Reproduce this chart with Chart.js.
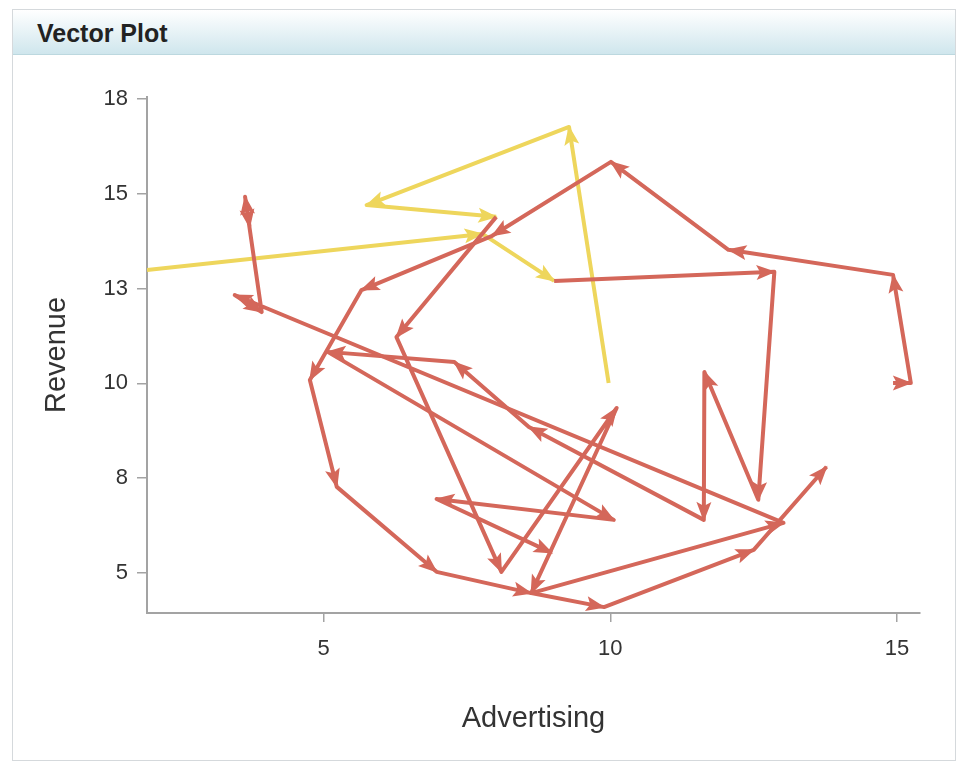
<!DOCTYPE html>
<html>
<head>
<meta charset="utf-8">
<script src="https://cdn.jsdelivr.net/npm/chart.js@4.4.1/dist/chart.umd.min.js"></script>
<style>
  html, body { margin: 0; padding: 0; background: #fff; }
  body { width: 958px; height: 762px; position: relative; overflow: hidden; font-family: 'Liberation Sans', Arial, sans-serif; }
  .panel { position: absolute; left: 12px; top: 9px; width: 944px; height: 752px; border: 1px solid #d5d9dc; box-sizing: border-box; }
  .header { position: absolute; left: 0; top: 0; right: 0; height: 44px; background: linear-gradient(#ffffff, #cfe6ed); border-bottom: 1px solid #bcd8df; }
  .header span { position: absolute; left: 24px; top: 9px; font: bold 25px 'Liberation Sans', Arial, sans-serif; color: #222; }
  #wrap { position: absolute; left: 0; top: 0; width: 958px; height: 762px; }
</style>
</head>
<body>
<div class="panel"><div class="header"><span>Vector Plot</span></div></div>
<div id="wrap"><canvas id="chart"></canvas></div>
<script>
// each path is a chain of vectors: one arrow from a point to the next one
const pathAX = [1.92, 7.77, 9.02];
const pathAY = [12.99, 13.94, 12.70];
const pathBX = [9.97, 9.28, 5.75, 8.01];
const pathBY = [10.01, 16.76, 14.70, 14.39];
const pathCX = [9.02, 12.86, 12.58, 11.64, 11.63, 8.58, 7.28, 5.07, 10.06, 6.97, 8.98];
const pathCY = [12.70, 12.94, 6.93, 10.30, 6.40, 8.85, 10.56, 10.83, 6.40, 6.95, 5.53];
const pathDX = [8.01, 6.27, 8.10, 10.11, 8.62, 13.02, 3.45, 3.92, 3.63, 3.71];
const pathDY = [14.39, 11.22, 5.03, 9.35, 4.47, 6.32, 12.33, 11.88, 14.92, 14.12];
const pathEX = [14.93, 15.24, 14.93, 12.06, 10.01, 7.94, 5.66, 4.76, 5.23, 6.97, 8.62, 9.89, 12.50, 13.77];
const pathEY = [10.01, 10.01, 12.86, 13.52, 15.84, 13.89, 12.46, 10.09, 7.27, 5.03, 4.47, 4.10, 5.61, 7.80];

const xTicks = [5, 10, 15];
const yTicks = [5, 7.5, 10, 12.5, 15, 17.5];
const yTickLabels = ['5', '8', '10', '13', '15', '18'];

const yellow = '#eed65c';
const red = '#d4675a';

function toPoints(xs, ys) {
  return xs.map((x, i) => ({ x: x, y: ys[i] }));
}

function pathDataset(xs, ys, color) {
  return {
    data: toPoints(xs, ys),
    showLine: true,
    borderColor: color,
    backgroundColor: color,
    borderWidth: 4,
    borderJoinStyle: 'round',
    borderCapStyle: 'butt',
    pointRadius: 0,
    pointHoverRadius: 0,
    tension: 0
  };
}

// draws an arrow head at the end of every vector, right after its dataset
const arrowHeads = {
  id: 'arrowHeads',
  afterDatasetDraw(chart, args) {
    const ds = chart.data.datasets[args.index];
    const pts = args.meta.data;
    const ctx = chart.ctx;
    const area = chart.chartArea;
    ctx.save();
    ctx.beginPath();
    ctx.rect(area.left, area.top, area.right - area.left, area.bottom - area.top);
    ctx.clip();
    ctx.fillStyle = ds.borderColor;
    for (let i = 1; i < pts.length; i++) {
      const a = pts[i - 1], b = pts[i];
      const ang = Math.atan2(b.y - a.y, b.x - a.x);
      ctx.save();
      ctx.translate(b.x, b.y);
      ctx.rotate(ang);
      ctx.beginPath();
      ctx.moveTo(1.5, 0);
      ctx.lineTo(-18, -7.5);
      ctx.lineTo(-14, 0);
      ctx.lineTo(-18, 7.5);
      ctx.closePath();
      ctx.fill();
      ctx.restore();
    }
    ctx.restore();
  }
};

const axisGray = '#a3a3a3';
const tickFont = { family: "'Liberation Sans', Arial, sans-serif", size: 22 };
const titleFont = { family: "'Liberation Sans', Arial, sans-serif", size: 29 };

new Chart(document.getElementById('chart'), {
  type: 'scatter',
  data: {
    datasets: [
      pathDataset(pathCX, pathCY, red),
      pathDataset(pathDX, pathDY, red),
      pathDataset(pathEX, pathEY, red),
      pathDataset(pathAX, pathAY, yellow),
      pathDataset(pathBX, pathBY, yellow)
    ]
  },
  options: {
    responsive: true,
    maintainAspectRatio: false,
    animation: false,
    layout: { padding: { left: 0, top: 97, right: 38, bottom: 0 } },
    plugins: { legend: { display: false }, tooltip: { enabled: false } },
    scales: {
      x: {
        type: 'linear',
        min: 1.92,
        max: 15.4,
        afterBuildTicks: s => { s.ticks = xTicks.map(v => ({ value: v })); },
        afterFit: s => { s.height = 149; },
        grid: { drawOnChartArea: false, drawTicks: true, tickLength: 9, color: axisGray, lineWidth: 1.5 },
        border: { display: true, color: axisGray, width: 2 },
        ticks: { color: '#333', font: tickFont, padding: 14, maxRotation: 0 },
        title: { display: true, text: 'Advertising', color: '#333', font: titleFont, padding: { top: 0, bottom: 26 } }
      },
      y: {
        type: 'linear',
        min: 3.945,
        max: 17.55,
        afterBuildTicks: s => { s.ticks = yTicks.map(v => ({ value: v })); },
        afterFit: s => { s.width = 147; },
        grid: { drawOnChartArea: false, drawTicks: true, tickLength: 10, color: axisGray, lineWidth: 1.5 },
        border: { display: true, color: axisGray, width: 2 },
        ticks: {
          color: '#333',
          font: tickFont,
          padding: 9,
          callback: (v, i) => yTickLabels[i]
        },
        title: { display: true, text: 'Revenue', color: '#333', font: titleFont, padding: { top: 40, bottom: 0 } }
      }
    }
  },
  plugins: [arrowHeads]
});
</script>
</body>
</html>
